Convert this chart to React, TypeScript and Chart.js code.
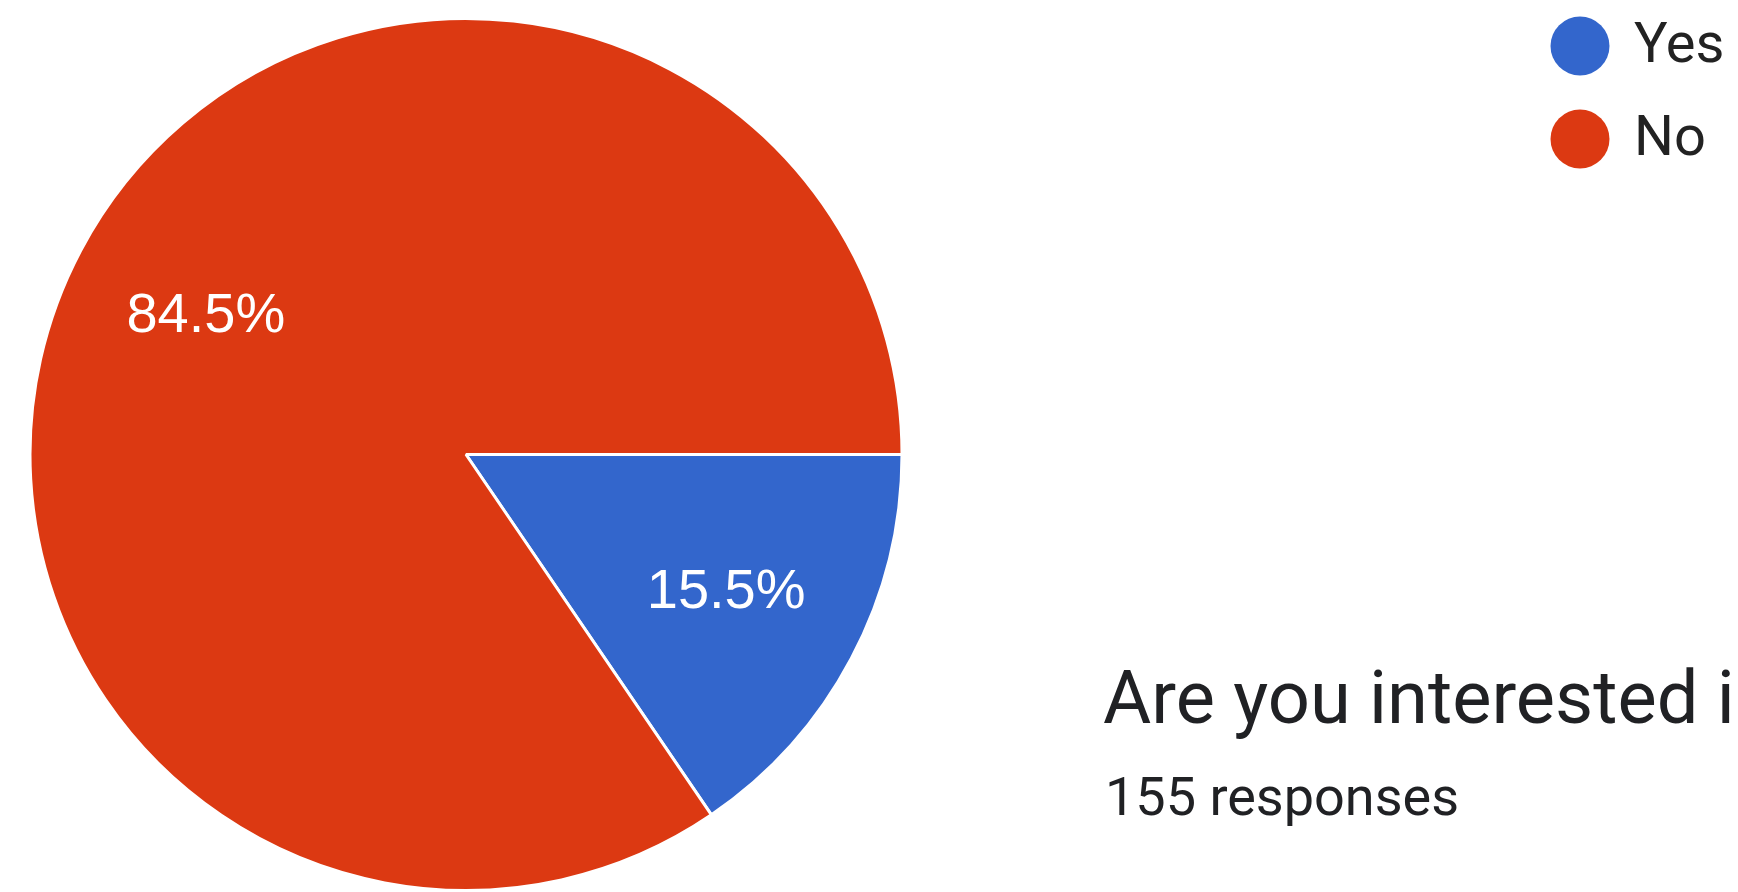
import React, { useEffect, useRef } from "react";
import { Chart, registerables } from "chart.js";

Chart.register(...registerables);

const categories = ["Yes", "No"];
const responseCounts = [24, 131];
const sliceColors = ["#3366CC", "#DC3912"];
const questionTitle = "Are you interested in";
const responsesLabel = "155 responses";

const W = 1738;
const H = 892;

const overlayPlugin = {
  id: "overlay",
  afterDatasetsDraw(chart: any) {
    const ctx = chart.ctx;
    const meta = chart.getDatasetMeta(0);
    const values: number[] = chart.data.datasets[0].data;
    const total = values.reduce((a, b) => a + b, 0);
    ctx.save();
    // slice percentage labels
    ctx.fillStyle = "#ffffff";
    ctx.font = "56px 'Liberation Sans', Arial, sans-serif";
    ctx.textAlign = "center";
    ctx.textBaseline = "middle";
    meta.data.forEach((arc: any, i: number) => {
      const p = arc.getProps(["x", "y", "startAngle", "endAngle", "outerRadius"], true);
      const mid = (p.startAngle + p.endAngle) / 2;
      const r = p.outerRadius * 0.675;
      const pct = ((values[i] / total) * 100).toFixed(1) + "%";
      ctx.fillText(pct, p.x + Math.cos(mid) * r, p.y + Math.sin(mid) * r);
    });
    // legend
    const legendY = [46, 139];
    categories.forEach((lab, i) => {
      ctx.beginPath();
      ctx.fillStyle = sliceColors[i];
      ctx.arc(1580, legendY[i], 29.5, 0, Math.PI * 2);
      ctx.fill();
      ctx.fillStyle = "#222222";
      ctx.font = "56px Roboto, 'Liberation Sans', sans-serif";
      ctx.textAlign = "left";
      ctx.textBaseline = "middle";
      ctx.fillText(lab, 1634, legendY[i] + 2);
    });
    // title and responses
    ctx.fillStyle = "#202124";
    ctx.textBaseline = "alphabetic";
    ctx.font = "74px Roboto, 'Open Sans', sans-serif";
    ctx.fillText(questionTitle, 1103, 723);
    ctx.font = "54px Roboto, sans-serif";
    ctx.fillText(responsesLabel, 1105, 815);
    ctx.restore();
  },
};

export default function App() {
  const ref = useRef<HTMLCanvasElement | null>(null);
  useEffect(() => {
    if (!ref.current) return;
    const chart = new Chart(ref.current, {
      type: "pie",
      data: {
        labels: categories,
        datasets: [
          {
            data: responseCounts,
            backgroundColor: sliceColors,
            borderColor: "#ffffff",
            borderWidth: 3,
          },
        ],
      },
      options: {
        responsive: false,
        animation: false,
        devicePixelRatio: 1,
        rotation: 90,
        layout: { padding: { left: 27, right: W - 905, top: 17, bottom: 0 } },
        plugins: {
          legend: { display: false },
          tooltip: { enabled: false },
          title: { display: false },
        },
      },
      plugins: [overlayPlugin],
    });
    return () => chart.destroy();
  }, []);
  return (
    <div style={{ position: "fixed", left: 0, top: 0, width: W, height: H, overflow: "hidden", background: "#fff" }}>
      <canvas ref={ref} width={W} height={H} style={{ width: W, height: H, display: "block" }} />
    </div>
  );
}
